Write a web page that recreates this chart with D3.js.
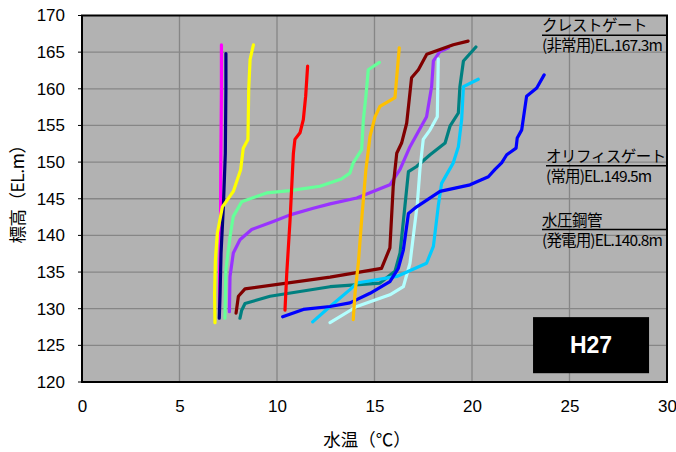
<!DOCTYPE html>
<html><head><meta charset="utf-8">
<script src="https://cdn.jsdelivr.net/npm/d3@7"></script>
<style>
html,body{margin:0;padding:0;background:#fff;}
svg{display:block;font-family:"Liberation Sans","Noto Sans CJK JP",sans-serif;}
</style></head>
<body>
<svg id="chart" width="676" height="452"></svg>
<script>
// ---- data (temperature °C, elevation EL.m) ----
const xTicks = [0, 5, 10, 15, 20, 25, 30];
const yTicks = [120, 125, 130, 135, 140, 145, 150, 155, 160, 165, 170];

const magentaProfile = [[7.05,129.8],[7.06,135],[7.1,140],[7.12,150],[7.15,160],[7.15,166]];
const navyProfile = [[7.04,128.7],[7.08,132],[7.13,137.6],[7.25,144],[7.35,151.2],[7.38,160],[7.38,164.8]];
const yellowProfile = [[6.82,128.1],[6.8,132],[6.84,136.7],[6.94,140.3],[7.2,143.9],[7.76,146],[8.14,149],[8.27,151.9],[8.51,153.1],[8.55,160],[8.62,164],[8.79,166]];
const springProfile = [[7.33,128.7],[7.38,135.3],[7.59,139.8],[7.76,142.6],[8.19,144.6],[9.47,145.8],[10.67,146.1],[12.2,146.7],[13.3,147.7],[13.74,148.5],[13.91,149.9],[14.34,151.7],[14.43,155.8],[14.56,159],[14.68,162.6],[15.25,163.6]];
const purpleProfile = [[7.56,129.6],[7.59,134.4],[7.76,137.6],[8.1,139.4],[8.7,140.8],[9.81,141.9],[10.67,142.8],[11.86,143.7],[12.72,144.3],[14.09,145.1],[15.79,146.9],[16.31,149],[16.82,152.1],[17.67,156.2],[17.93,160.3],[18.02,163.8],[18.36,165.1],[18.79,165.6]];
const maroonProfile = [[7.9,129.4],[8.02,131.7],[8.36,132.7],[12.72,134.3],[15.36,135.5],[15.79,138.3],[15.96,146.7],[16.14,151.2],[16.39,152.6],[16.65,155.3],[16.9,161.5],[17.25,162.6],[17.68,164.7],[19.04,166],[19.8,166.5]];
const tealProfile = [[8.1,128.7],[8.19,129.8],[8.36,130.7],[9.64,131.7],[12.72,133],[15.28,133.5],[16.05,135.1],[16.31,137.6],[16.56,144],[16.74,148.7],[17.16,149.4],[17.85,151],[18.62,152.6],[18.87,154.9],[19.3,156.7],[19.38,160.3],[19.56,163.8],[20.2,165.7]];
const lightCyanProfile = [[12.72,128.1],[14.09,130.3],[15.79,131.9],[16.48,133],[16.82,136.2],[16.99,139.9],[17.2,144.4],[17.33,149],[17.5,153.1],[17.85,154.4],[18.22,156.2],[18.27,164.1]];
const skyProfile = [[11.83,128.2],[12.72,130.3],[13.74,132.6],[14.09,133.5],[16.14,134.4],[17.67,136.2],[18.02,138.5],[18.27,144],[18.44,147.1],[19.04,149.9],[19.3,152.1],[19.47,155.8],[19.56,160.3],[20.32,161.3]];
const blueProfile = [[10.29,128.9],[11.35,129.9],[12.72,130.3],[13.74,130.8],[14.77,132.1],[15.79,133.7],[16.22,135.5],[16.48,138],[16.74,143],[17.16,143.9],[18.36,146],[19.9,146.9],[20.84,148],[21.18,149],[21.52,149.9],[21.78,151],[22.26,151.9],[22.32,153.3],[22.55,154.4],[22.8,159],[23.32,160.1],[23.7,161.9]];
const orangeProfile = [[13.91,128.5],[14,132.1],[14.17,136.2],[14.34,142.1],[14.56,149],[14.77,153.5],[15.03,156.2],[15.28,157.6],[16.05,158.8],[16.27,165.6]];
const redProfile = [[10.41,129.8],[10.5,134.8],[10.67,142.1],[10.84,151.2],[10.92,153.1],[11.18,154],[11.35,155.8],[11.47,159],[11.57,163.1]];

const seriesData = [magentaProfile, navyProfile, yellowProfile, springProfile, purpleProfile, maroonProfile, tealProfile, lightCyanProfile, skyProfile, blueProfile, orangeProfile, redProfile];
const seriesColors = ["#FF00FF", "#000080", "#FFFF00", "#66FF99", "#9933FF", "#800000", "#008080", "#B3FFFF", "#00CCFF", "#0000FF", "#FFC000", "#FF0000"];

const gateLabels = ["クレストゲート", "オリフィスゲート", "水圧鋼管"];
const gateSubLabels = ["(非常用)EL.167.3m", "(常用)EL.149.5m", "(発電用)EL.140.8m"];
const gateElevations = [167.3, 149.5, 140.8];
const gateTextX = [542, 546, 542];
const yearLabel = "H27";

// ---- layout ----
const svg = d3.select("#chart");
const L = 82, R = 667, T = 15.5, B = 382;
const x = d3.scaleLinear().domain([0, 30]).range([L, R]);
const y = d3.scaleLinear().domain([120, 170]).range([B, T]);

// plot background
svg.append("rect").attr("x", L).attr("y", T).attr("width", R - L).attr("height", B - T).attr("fill", "#B2B2B2");

// gridlines
const grid = svg.append("g");
grid.selectAll(".gx").data(xTicks.slice(1, -1)).join("line")
  .attr("x1", d => x(d)).attr("x2", d => x(d)).attr("y1", T).attr("y2", B)
  .attr("stroke", "#868686").attr("stroke-width", 1.3);
grid.selectAll(".gy").data(yTicks.slice(1, -1)).join("line")
  .attr("x1", L).attr("x2", R).attr("y1", d => y(d)).attr("y2", d => y(d))
  .attr("stroke", "#868686").attr("stroke-width", 1.3);

// axes (labels only, using d3 axes)
const xAxis = svg.append("g").attr("transform", `translate(0,${B})`)
  .call(d3.axisBottom(x).tickValues(xTicks).tickSize(0).tickPadding(18).tickFormat(d3.format("d")));
xAxis.select(".domain").remove();
xAxis.selectAll("text").attr("font-size", 17).attr("fill", "#000")
  .attr("font-family", "'Liberation Sans', sans-serif");

const yAxis = svg.append("g").attr("transform", `translate(${L},0)`)
  .call(d3.axisLeft(y).tickValues(yTicks).tickSize(0).tickPadding(17).tickFormat(d3.format("d")));
yAxis.select(".domain").remove();
yAxis.selectAll("text").attr("font-size", 17).attr("fill", "#000")
  .attr("font-family", "'Liberation Sans', sans-serif");

// small tick marks on left
svg.selectAll(".ytk").data(yTicks).join("line")
  .attr("x1", L - 4).attr("x2", L).attr("y1", d => y(d)).attr("y2", d => y(d))
  .attr("stroke", "#000").attr("stroke-width", 1);

// lines
const line = d3.line().x(d => x(d[0])).y(d => y(d[1]));
svg.append("g").selectAll("path").data(seriesData).join("path")
  .attr("d", line)
  .attr("fill", "none")
  .attr("stroke", (d, i) => seriesColors[i])
  .attr("stroke-width", 3.2)
  .attr("stroke-linejoin", "round")
  .attr("stroke-linecap", "round");

// gate annotations
const ann = svg.append("g").attr("font-family", "'Noto Sans CJK JP','Liberation Sans',sans-serif").attr("font-size", 15.5);
gateElevations.forEach((el, i) => {
  const yy = y(el);
  ann.append("line").attr("x1", gateTextX[i]).attr("x2", R).attr("y1", yy).attr("y2", yy)
    .attr("stroke", "#000").attr("stroke-width", 1.6);
  ann.append("text").attr("x", gateTextX[i]).attr("y", yy - 4).text(gateLabels[i])
    .attr("letter-spacing", -0.5).attr("fill", "#000");
  ann.append("text").attr("x", gateTextX[i]).attr("y", yy + 16).text(gateSubLabels[i])
    .attr("letter-spacing", -0.85).attr("fill", "#000");
});

// year box
const boxX0 = x(23.13), boxX1 = x(29.08), boxY0 = y(128.85), boxY1 = y(121.2);
svg.append("rect").attr("x", boxX0).attr("y", boxY0).attr("width", boxX1 - boxX0).attr("height", boxY1 - boxY0)
  .attr("fill", "#000");
svg.append("text").attr("x", (boxX0 + boxX1) / 2).attr("y", (boxY0 + boxY1) / 2).attr("dy", "0.36em")
  .attr("text-anchor", "middle").attr("fill", "#fff").attr("font-weight", "bold")
  .attr("font-size", 23).attr("font-family", "'Liberation Sans',sans-serif").text(yearLabel);

// plot border
svg.append("rect").attr("x", L).attr("y", T).attr("width", R - L).attr("height", B - T)
  .attr("fill", "none").attr("stroke", "#000").attr("stroke-width", 2);

// axis titles
svg.append("text").attr("x", 367).attr("y", 446)
  .attr("text-anchor", "middle").attr("font-size", 17.5)
  .attr("font-family", "'Noto Sans CJK JP',sans-serif").text("水温（℃）");
svg.append("text").attr("transform", `translate(24,190) rotate(-90)`)
  .attr("text-anchor", "middle").attr("font-size", 17.5).attr("letter-spacing", -0.5)
  .attr("font-family", "'Noto Sans CJK JP',sans-serif").text("標高（EL.m）");
</script>
</body></html>
